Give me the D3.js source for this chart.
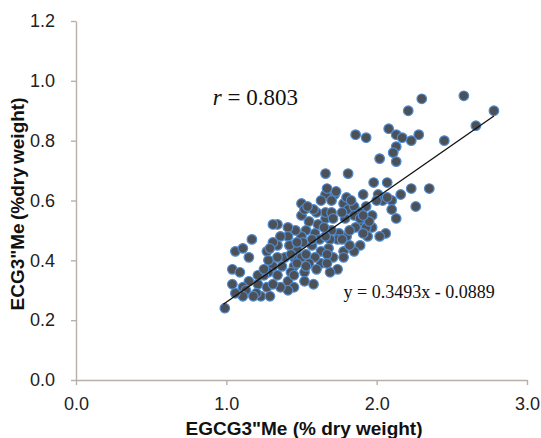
<!DOCTYPE html>
<html>
	<head>
		<style>
			body{ margin:0; background:#fff; }
			.dot{ fill:#4c5157; stroke:#4f8bd0; stroke-width:1.2; }
			.axis path, .axis line{ stroke:#b8aeaa; stroke-width:1.4; }
			.axis text{ font-family:"Liberation Sans", Arial, sans-serif; font-size:18px; fill:#222; }
			.titulo{ font-family:"Liberation Sans", Arial, sans-serif; font-weight:bold; font-size:19px; fill:#111; }
			.nota{ font-family:"Liberation Serif", "Times New Roman", serif; fill:#111; }
			.trend{ stroke:#111; stroke-width:1.3; fill:none; }
		</style>
		<script src="https://d3js.org/d3.v7.min.js"></script>
	</head>
	<body>
		<div class="container"></div>
		<script type="text/javascript">

			// EGCG3"Me (x) e ECG3"Me (y), % peso seco
			var egcg = [2.58,2.30,2.78,2.21,2.66,2.45,2.08,2.13,2.17,2.23,2.28,1.86,1.93,2.13,2.11,2.13,2.02,1.66,1.81,1.98,
				2.07,2.35,2.23,2.16,1.91,2.01,2.26,2.10,2.04,2.10,2.13,2.06,2.02,1.97,1.97,1.93,1.72,1.66,1.63,1.70,
				1.78,1.81,1.85,1.89,1.85,1.79,1.90,1.93,1.86,1.94,1.89,1.85,1.80,1.75,1.70,1.74,1.69,1.68,1.78,1.78,
				1.71,1.74,1.69,1.63,1.66,1.66,1.60,1.58,1.50,1.55,1.61,1.53,1.59,1.62,1.57,1.63,1.59,1.55,1.60,1.52,
				1.58,1.52,1.45,1.45,1.47,1.50,1.46,1.41,1.34,1.31,1.41,1.36,1.34,1.42,1.39,1.34,1.31,1.37,1.43,1.41,
				1.45,1.41,1.34,1.28,1.25,1.21,1.27,1.23,1.29,1.15,1.11,1.13,1.11,1.04,0.99,1.04,1.06,1.11,1.17,1.15,
				1.27,1.28,1.31,1.29,1.43,1.50,1.47,1.53,1.50,1.52,1.54,1.67,1.73,1.70,1.77,1.71,1.82,1.82,1.91,1.89,
				1.95,1.77,1.66,1.65,1.57,1.51,1.47,1.67,1.67,1.53,1.45,1.36,1.31,1.20,1.21,1.25,1.06,1.09,1.18,1.80,
				1.83,1.91,2.00,2.07];
			var ecg = [0.95,0.94,0.90,0.90,0.85,0.80,0.84,0.82,0.81,0.80,0.82,0.82,0.81,0.78,0.76,0.73,0.74,0.69,0.69,0.66,
				0.66,0.64,0.64,0.62,0.62,0.62,0.58,0.60,0.60,0.57,0.54,0.49,0.48,0.51,0.55,0.58,0.62,0.62,0.60,0.60,
				0.59,0.57,0.58,0.56,0.55,0.54,0.53,0.51,0.51,0.48,0.45,0.43,0.48,0.49,0.50,0.47,0.47,0.44,0.43,0.41,
				0.41,0.37,0.36,0.39,0.54,0.56,0.56,0.57,0.59,0.53,0.52,0.50,0.49,0.47,0.45,0.43,0.41,0.39,0.37,0.36,
				0.32,0.33,0.38,0.41,0.44,0.48,0.50,0.51,0.52,0.52,0.48,0.48,0.45,0.45,0.41,0.41,0.38,0.38,0.36,0.33,
				0.31,0.30,0.35,0.36,0.35,0.32,0.31,0.28,0.28,0.33,0.31,0.30,0.28,0.32,0.24,0.37,0.43,0.44,0.47,0.41,
				0.43,0.40,0.46,0.44,0.42,0.41,0.39,0.42,0.55,0.57,0.58,0.64,0.63,0.56,0.56,0.54,0.50,0.45,0.49,0.54,
				0.53,0.47,0.48,0.51,0.47,0.46,0.46,0.42,0.39,0.38,0.35,0.31,0.32,0.29,0.35,0.37,0.29,0.36,0.28,0.61,
				0.60,0.55,0.60,0.61];

			var xTicks = [0, 1, 2, 3];
			var yTicks = [0, 0.2, 0.4, 0.6, 0.8, 1.0, 1.2];

			// reta de regressao
			var slope = 0.3493, intercept = -0.0889;
			var xLine = [0.98, 2.78];

			var rLabel = "0.803";
			var eqLabel = "y = 0.3493x - 0.0889";
			var xTitle = "EGCG3\"Me (% dry weight)";
			var yTitle = "ECG3\"Me (%dry weight)";

			var width = 541, height = 438;

			var svg = d3.select('.container')
				.append('svg')
				.attr('width', width)
				.attr('height', height);

			var x = d3.scaleLinear().domain([0, 3]).range([76, 527]);
			var y = d3.scaleLinear().domain([0, 1.2]).range([380, 21]);

			svg.append('g')
				.attr('class', 'axis')
				.attr('transform', 'translate(0,' + y(0) + ')')
				.call(d3.axisBottom(x).tickValues(xTicks).tickSize(5).tickSizeOuter(0)
					.tickPadding(12).tickFormat(d3.format('.1f')));

			svg.append('g')
				.attr('class', 'axis')
				.attr('transform', 'translate(' + x(0) + ',0)')
				.call(d3.axisLeft(y).tickValues(yTicks).tickSize(5).tickSizeOuter(0)
					.tickPadding(16).tickFormat(d3.format('.1f')));

			var pts = egcg.map(function(d, i){ return {x: d, y: ecg[i]}; });

			svg.append('g').selectAll('.dot')
				.data(pts)
				.enter()
				.append('circle')
				.attr('class', 'dot')
				.attr('cx', function(d){ return x(d.x); })
				.attr('cy', function(d){ return y(d.y); })
				.attr('r', 4.8);

			svg.append('line')
				.attr('class', 'trend')
				.attr('x1', x(xLine[0]))
				.attr('y1', y(slope * xLine[0] + intercept))
				.attr('x2', x(xLine[1]))
				.attr('y2', y(slope * xLine[1] + intercept));

			var rt = svg.append('text')
				.attr('class', 'nota')
				.attr('x', x(0.91))
				.attr('y', y(0.92))
				.attr('font-size', 23);
			rt.append('tspan').attr('font-style', 'italic').text('r');
			rt.append('tspan').text(' = ' + rLabel);

			svg.append('text')
				.attr('class', 'nota')
				.attr('x', x(1.78))
				.attr('y', y(0.275))
				.attr('font-size', 18)
				.text(eqLabel);

			svg.append('text')
				.attr('class', 'titulo')
				.attr('text-anchor', 'middle')
				.attr('x', 304)
				.attr('y', 435)
				.text(xTitle);

			svg.append('text')
				.attr('class', 'titulo')
				.attr('text-anchor', 'middle')
				.attr('word-spacing', -2)
				.attr('transform', 'translate(24,' + 204 + ') rotate(-90)')
				.text(yTitle);

		</script>
	</body>
</html>
